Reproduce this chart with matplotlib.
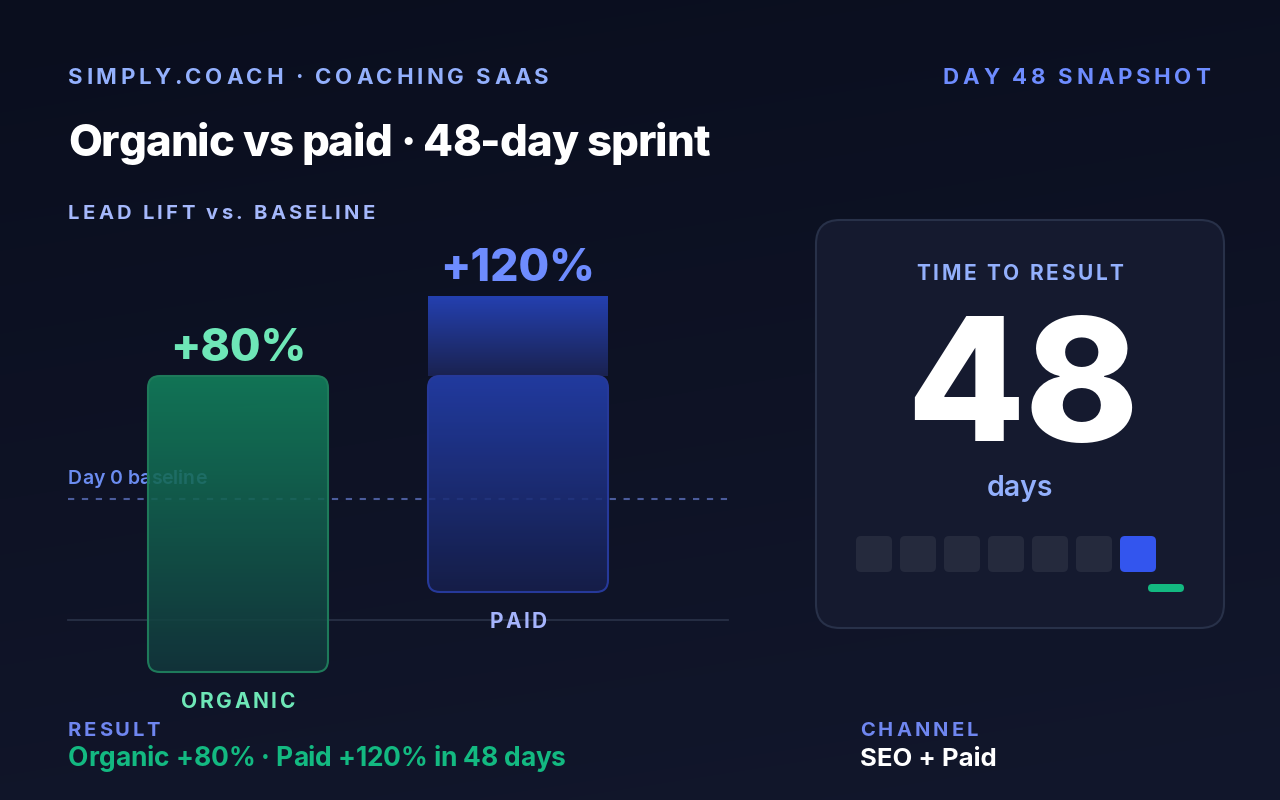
import numpy as np
import matplotlib
matplotlib.use("Agg")
import matplotlib.pyplot as plt
from matplotlib.patches import FancyBboxPatch
from matplotlib.colors import LinearSegmentedColormap

plt.rcParams['font.family'] = ['Inter', 'DejaVu Sans']
plt.rcParams['lines.scale_dashes'] = False

# ---------------- data ----------------
brand = "SIMPLY.COACH · COACHING SAAS"
snapshot = "DAY 48 SNAPSHOT"
title = "Organic vs paid · 48-day sprint"
subtitle = "LEAD LIFT vs. BASELINE"
categories = ["ORGANIC", "PAID"]
lift_pct = [80, 120]
baseline_label = "Day 0 baseline"
days_to_result = 48
week_blocks = 7
active_block = 6
result_text = "Organic +80% · Paid +120% in 48 days"
channel_text = "SEO + Paid"

# ---------------- colours ----------------
BG_TOP = np.array([10, 14, 30]) / 255
BG_BOT = np.array([18, 23, 44]) / 255
GREEN_LT = "#6ee7b7"
GREEN = "#13b981"
BLUE_LT = "#6e8cff"
LABEL = "#93b0fd"
LABEL2 = "#6f86f0"

W, H = 1280, 800
fig = plt.figure(figsize=(12.8, 8), dpi=100)
ax = fig.add_axes([0, 0, 1, 1])
ax.axis('off')

# background gradient
yy, xx = np.mgrid[0:H:200j, 0:W:320j]
t = (yy / H) * 0.8 + (xx / W) * 0.2
bg = BG_TOP[None, None, :] * (1 - t[..., None]) + BG_BOT[None, None, :] * t[..., None]
ax.imshow(bg, extent=(0, W, H, 0), origin='upper', zorder=0, interpolation='bilinear')
ax.set_xlim(0, W)
ax.set_ylim(H, 0)
ax.set_aspect('auto')

renderer = fig.canvas.get_renderer()


def measure(s, **kw):
    tt = ax.text(0, 0, s, **kw)
    w = tt.get_window_extent(renderer).width
    tt.remove()
    return w


def draw_text(x, y, s, width=None, spacing=0.0, ha='left', zorder=6, **kw):
    base = measure("HH", **kw)
    adv = [measure("H" + c + "H", **kw) - base for c in s]
    nat = sum(adv)
    if width is not None and len(s) > 1:
        spacing = (width - nat) / (len(s) - 1)
    total = nat + spacing * (len(s) - 1)
    if ha == 'center':
        x0 = x - total / 2
    elif ha == 'right':
        x0 = x - total
    else:
        x0 = x
    for c, a in zip(s, adv):
        if c != ' ':
            ax.text(x0, y, c, ha='left', va='baseline', zorder=zorder, **kw)
        x0 += a + spacing


def grad_box(x0, y0, w, h, top, bottom, r, alpha=1.0, edge=None, z=3, lw=1.5):
    if r > 0:
        style = f"round,pad=0,rounding_size={r}"
    else:
        style = "square,pad=0"
    patch = FancyBboxPatch((x0, y0), w, h, boxstyle=style, facecolor='none',
                           edgecolor=edge if edge else 'none', linewidth=lw, zorder=z + 0.1)
    ax.add_patch(patch)
    cmap = LinearSegmentedColormap.from_list("g", [top, bottom])
    im = ax.imshow(np.linspace(0, 1, 256).reshape(-1, 1), cmap=cmap, aspect='auto',
                   extent=(x0, x0 + w, y0 + h, y0), origin='upper', alpha=alpha, zorder=z)
    clip = FancyBboxPatch((x0, y0), w, h, boxstyle=style, facecolor='none',
                          edgecolor='none', transform=ax.transData)
    im.set_clip_path(clip)
    return patch


# ---------------- header ----------------
draw_text(68, 84, brand, width=481, fontsize=16, fontweight='bold', color=LABEL)
draw_text(1210, 84, snapshot, width=267, ha='right', fontsize=16, fontweight='bold', color=BLUE_LT)
draw_text(68, 156, title, width=642, fontsize=31.5, fontweight='heavy', color='white')
draw_text(68, 219, subtitle, width=307, fontsize=14.5, fontweight='bold', color="#a5b8fc")

# ---------------- bar chart ----------------
# value scale: y_px = Y_ZERO - K * value
Y_ZERO, K = 536, 2.0
vy = lambda v: Y_ZERO - K * v
bar_x = [148, 428]
bar_w = 180
bar_bottom = [672, 592]
body_top = vy(min(lift_pct))

# reference lines
ax.plot([68, 728], [499, 499], color="#4b5c9c", lw=1.5, dashes=(4.5, 5.5), zorder=2)
ax.plot([68, 728], [620, 620], color="#283046", lw=1.3, zorder=2)
draw_text(68, 484, baseline_label, fontsize=14, fontweight='semibold', color="#6b8cf0", zorder=2)

bar_styles = {
    "ORGANIC": dict(top="#13825d", bottom="#12373c", edge="#1e7a5a", lab=GREEN_LT, catc=GREEN_LT),
    "PAID": dict(top="#2440b0", bottom="#161f4c", edge="#26399a", lab=BLUE_LT, catc="#a5b4fc"),
}
for cat, v, x, yb in zip(categories, lift_pct, bar_x, bar_bottom):
    st = bar_styles[cat]
    if vy(v) < body_top:
        grad_box(x, vy(v), bar_w, body_top - vy(v), st["top"], "#1a2250", 0, alpha=1.0, z=3)
    grad_box(x, body_top, bar_w, yb - body_top, st["top"], st["bottom"], 12,
             alpha=0.88, edge=st["edge"], z=3)
    ax.text(x + bar_w / 2, vy(v) - 15, f"+{v}%", ha='center', va='baseline', fontsize=32,
            fontweight='heavy', color=st["lab"], zorder=6)
    draw_text(x + bar_w / 2, yb + 36, cat, ha='center', spacing=2.6, fontsize=15,
              fontweight='bold', color=st["catc"])

# ---------------- card ----------------
card = FancyBboxPatch((816, 220), 408, 408, boxstyle="round,pad=0,rounding_size=24",
                      facecolor="#151a2f", edgecolor="#283149", linewidth=1.5, zorder=2)
ax.add_patch(card)
draw_text(1020, 280, "TIME TO RESULT", width=207, ha='center', fontsize=15,
          fontweight='bold', color=LABEL)
ax.text(1023, 441, f"{days_to_result}", ha='center', va='baseline', fontsize=124,
        fontweight='heavy', color='white', zorder=6)
ax.text(1020, 496, "days", ha='center', va='baseline', fontsize=20.5, fontweight='semibold',
        color="#93b0fd", zorder=6)
for i in range(week_blocks):
    c = "#3355ee" if i == active_block else "#252a3d"
    sq = FancyBboxPatch((856 + 44 * i, 536), 36, 36, boxstyle="round,pad=0,rounding_size=5",
                        facecolor=c, edgecolor='none', zorder=3)
    ax.add_patch(sq)
mark = FancyBboxPatch((1148, 584), 36, 8, boxstyle="round,pad=0,rounding_size=4",
                      facecolor=GREEN, edgecolor='none', zorder=3)
ax.add_patch(mark)

# ---------------- footer ----------------
draw_text(68, 736, "RESULT", width=92, fontsize=14.5, fontweight='bold', color=LABEL2)
draw_text(860, 736, "CHANNEL", width=118, fontsize=14.5, fontweight='bold', color=LABEL2)
draw_text(68, 766, result_text, width=498, fontsize=19, fontweight='bold', color=GREEN)
ax.text(860, 766, channel_text, ha='left', va='baseline', fontsize=18.5, fontweight='bold',
        color='white', zorder=6)

fig.savefig("out.png", dpi=100, facecolor=fig.get_facecolor())
